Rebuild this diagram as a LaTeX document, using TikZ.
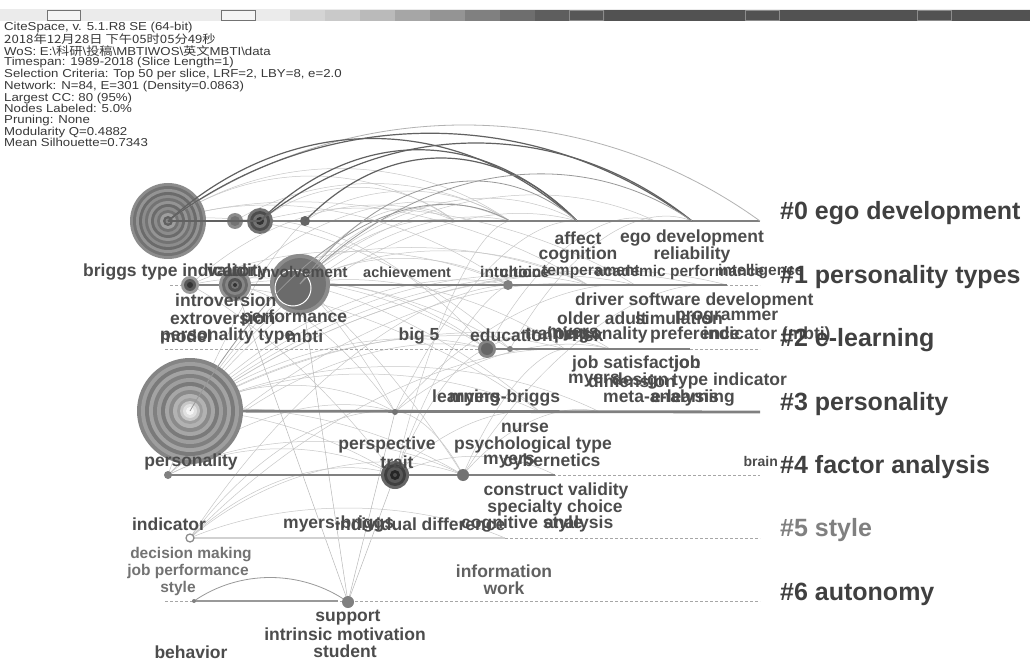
\documentclass[tikz,border=0pt]{standalone}
\usepackage{fontspec}
\setmainfont{Liberation Sans}
\newfontfamily\cjk{Noto Sans CJK SC}
\usetikzlibrary{calc}
\newcommand{\hl}[1]{\scalebox{1.15}[1]{#1}}
\newcommand{\carc}[4][]{\draw[#1] (#2) .. controls ($(#2)!0.3!(#3)+(0,-#4)$) and ($(#2)!0.7!(#3)+(0,-#4)$) .. (#3);}
\tikzset{
  lab/.style={font=\fontsize{17.5}{17.5}\selectfont\bfseries, text=black!70, inner sep=0pt},
  labw/.style={lab, anchor=west},
  lsm/.style={font=\fontsize{15.5}{15.5}\selectfont\bfseries},
  lxs/.style={font=\fontsize{14.5}{14.5}\selectfont\bfseries},
  clab/.style={font=\fontsize{25}{25}\selectfont\bfseries, text=black!75, inner sep=0pt, anchor=west},
  tl/.style={draw=black!50, line width=2.8pt},
  tld/.style={draw=black!35, line width=0.7pt, dash pattern=on 3pt off 2pt},
  arcl/.style={draw=black!22, line width=0.5pt},
  arcm/.style={draw=black!40, line width=0.8pt},
  arcd/.style={draw=black!62, line width=1.2pt},
}
\begin{document}
\begin{tikzpicture}[x=1pt,y=-1pt]
\useasboundingbox (0,0) rectangle (1030,660);
\fill[white] (0,0) rectangle (1030,660);
% ---------------- top legend bar
\fill[black!8] (0,9) rectangle (1030,21);
\draw[black!55, fill=black!4] (47,10.5) rectangle (80,20.5);
\draw[black!55, fill=black!4] (221,10.5) rectangle (255,20.5);
\foreach \i/\c in {0/17,1/21,2/27,3/35,4/42,5/50,6/57,7/63,8/66} \fill[black!\c] (290+35*\i,10) rectangle (325+35*\i,21);
\fill[black!68] (605,10) rectangle (1030,21);
\foreach \xx in {569,745,917} \draw[black!45, line width=0.8pt] (\xx,10.5) rectangle (\xx+34,20.5);
% ---------------- header text
\node[anchor=north west, align=left, inner sep=0pt, font=\fontsize{11.5}{10.6}\selectfont, text=black!78] (hdr) at (4,22) {%
\hl{CiteSpace, v. 5.1.R8 SE (64-bit)}\\
\hl{\cjk 2018年12月28日 下午05时05分49秒}\\
\hl{WoS: E:\textbackslash{\cjk 科研}\textbackslash{\cjk 投稿}\textbackslash MBTIWOS\textbackslash{\cjk 英文}MBTI\textbackslash data}\\
\hl{Timespan: 1989-2018 (Slice Length=1)}\\
\hl{Selection Criteria: Top 50 per slice, LRF=2, LBY=8, e=2.0}\\
\hl{Network: N=84, E=301 (Density=0.0863)}\\
\hl{Largest CC: 80 (95\%)}\\
\hl{Nodes Labeled: 5.0\%}\\
\hl{Pruning: None}\\
\hl{Modularity Q=0.4882}\\
\hl{Mean Silhouette=0.7343}};
% ---------------- coordinates
\coordinate (A0) at (168,221); \coordinate (A1) at (235,221); \coordinate (A2) at (260,221);
\coordinate (A3) at (305,221); \coordinate (A4) at (455,221); \coordinate (A5) at (510,221);
\coordinate (A6) at (577,221); \coordinate (A7) at (655,221); \coordinate (A8) at (692,221);
\coordinate (A9) at (760,221);
\coordinate (B0) at (190,285); \coordinate (B1) at (235,285); \coordinate (B2) at (300,284);
\coordinate (B3) at (508,285); \coordinate (B4) at (588,285); \coordinate (B5) at (635,285);
\coordinate (B6) at (700,285); \coordinate (B7) at (727,285); \coordinate (B8) at (760,285);
\coordinate (Bs) at (170,285);
\coordinate (Cs) at (165,349); \coordinate (C0) at (487,349); \coordinate (C1) at (510,349);
\coordinate (C2) at (565,349); \coordinate (C3) at (610,349); \coordinate (C4) at (690,349);
\coordinate (C5) at (760,349);
\coordinate (D0) at (190,411); \coordinate (D1) at (395,412); \coordinate (D2) at (540,412);
\coordinate (D3) at (600,412); \coordinate (D4) at (760,412);
\coordinate (E0) at (168,475); \coordinate (E1) at (395,475); \coordinate (E2) at (463,475);
\coordinate (E3) at (555,475); \coordinate (E4) at (760,475);
\coordinate (F0) at (190,538); \coordinate (F1) at (505,538); \coordinate (F2) at (760,538);
\coordinate (Gs) at (165,601); \coordinate (G0) at (194,601); \coordinate (G1) at (338,601);
\coordinate (G2) at (348,602); \coordinate (G3) at (760,601);
% ---------------- light arcs
\foreach \s/\e/\h in {D0/A4/70, D0/A5/80, D0/A6/90, D0/B3/60, D0/B4/70, D0/B5/70, D0/C0/45,
  D0/C2/50, D0/C3/55, D0/D1/35, D0/D2/50, D0/D3/60, D0/E1/20, D0/E2/30, B2/A4/50, B2/A5/55,
  B2/A6/65, B2/A7/70, B2/B3/35, B2/B4/45, B2/C0/25, B2/C2/35, B2/D1/15, B2/D2/25, B1/A5/60,
  B1/B4/50, B1/C1/35, B0/A4/55, B0/B3/45, B0/C0/40, A0/A4/60, A0/A5/70, A0/B3/55, A0/B4/60,
  A1/A5/50, A2/A4/45, A3/A5/40, E0/D1/40, E0/E1/35, E0/E2/45, E1/C0/30, E1/D2/25, E1/B3/40,
  E1/E3/25, E2/D3/30, E2/C2/35, F0/E1/40, F0/D1/45, F0/E2/50, F0/F1/40, C0/C3/25, C0/A7/55,
  D1/C3/35, D1/A6/60, E1/A5/70, D0/B7/80, A2/B5/50, B2/E2/20, E0/C0/60, D0/B6/75, B0/D2/40,
  E0/B4/70, F0/C2/60, D1/B5/45, E2/B6/55, C1/A8/60, B1/D1/30, A1/C0/50, E0/A3/40, F0/B3/70,
  D1/E2/20, B0/E1/25, A0/C1/55}
  {\carc[arcl]{\s}{\e}{\h}}
\foreach \e in {E1, D1, B2, B1} \draw[arcl, draw=black!28] (G2) -- (\e);
% ---------------- timelines
\draw[tl] (A0) -- (A9);
\draw[tld] (Bs) -- (B8); \draw[tl] (B0) -- (B7);
\draw[tld] (Cs) -- (C5); \draw[tl] (C0) -- (C4);
\draw[tl] (D0) -- (D4);
\draw[tld] (E0) -- (E4); \draw[tl] (E0) -- (E3);
\draw[tld] (F0) -- (F2); \draw[draw=black!18, line width=2.5pt] (F0) -- (F1);
\draw[tld] (Gs) -- (G3); \draw[draw=black!40, line width=2.5pt] (G0) -- (G1);
\carc[arcm]{G0}{G2}{32}
% ---------------- nodes
\foreach \r/\c in {38/45,35/55,32/42,29/58,26/45,23/55,20/42,17/58,14/45,11/55,8/38,5/62,2.5/48}
  \fill[black!\c] (A0) circle (\r);
\foreach \r/\c in {53/48,49/38,45/52,41/36,37/50,33/38,29/52,25/35,21/46,17/30,13/38,10/22,7/12,4/4}
  \fill[black!\c] (D0) circle (\r);
\fill[black!45] (B2) circle (30); \fill[black!55] (B2) circle (26);
\draw[white, line width=1pt, fill=black!58] (293,288) circle (18);
\foreach \r/\c in {16/42,13/58,10/48,7/68,4/55,2/80} \fill[black!\c] (B1) circle (\r);
\foreach \r/\c in {9/40,6/65,3/80} \fill[black!\c] (B0) circle (\r);
\foreach \r/\c in {8/45,5/55} \fill[black!\c] (A1) circle (\r);
\foreach \r/\c in {13/55,10/70,7/55,4/80} \fill[black!\c] (A2) circle (\r);
\fill[black!60] (A3) circle (5);
\fill[black!50] (B3) circle (5);
\foreach \r/\c in {9/48,6/60} \fill[black!\c] (C0) circle (\r);
\fill[black!50] (C1) circle (3);
\fill[black!55] (D1) circle (3);
\fill[black!50] (E0) circle (4);
\foreach \r/\c in {14/60,11/75,8/65,5/85,2/70} \fill[black!\c] (E1) circle (\r);
\fill[black!55] (E2) circle (6);
\draw[black!45, line width=1.3pt, fill=white] (F0) circle (4);
\fill[black!50] (G2) circle (6);
\fill[black!50] (G0) circle (2);
% ---------------- dark arcs
\carc[draw=black!30, line width=0.8pt]{A0}{A9}{128}
\carc[arcd]{A0}{A6}{110}
\carc[arcd]{A0}{A8}{117}
\carc[arcd]{A2}{A8}{104}
\carc[arcd]{A2}{A6}{95}
\carc[arcd]{A3}{A6}{84}
\carc[arcm]{B2}{A6}{90}
\carc[arcm]{B2}{A8}{100}
\carc[arcm]{D0}{A5}{110}
\draw[arcd] (A0) -- (A2);
% ---------------- row 0 labels
\node[lab] (l01) at (578,238) {affect};
\node[lab] (l02) at (692,238) {ego development};
\node[lab] (l03) at (578,255) {cognition};
\node[lab] (l04) at (692,255) {reliability};
% ---------------- row 1 labels
\node[labw] (l11) at (83,272) {briggs type indicator};
\node[labw] (l12) at (207,272) {validity};
\node[labw, lsm] (l13) at (257,272) {involvement};
\node[labw, lxs] (l14) at (363,272) {achievement};
\node[labw, lsm] (l15) at (480,272) {intuition};
\node[labw, lsm] (l16) at (500,272) {choice};
\node[labw, lsm] (l17) at (542,272) {temperament};
\node[labw, lsm] (l18) at (595,272) {academic performance};
\node[labw, lsm] (l19) at (718,272) {intelligence};
% ---------------- row 2 labels
\node[labw] (l21) at (175,300) {introversion};
\node[labw] (l22) at (170,318) {extroversion};
\node[labw] (l23) at (241,318) {performance};
\node[labw] (l24) at (160,336) {model};
\node[labw] (l25) at (160,336) {personality type};
\node[labw] (l26) at (286,336) {mbti};
\node[lab] (l27) at (419,336) {big 5};
\node[labw] (l28) at (575,301) {driver software development};
\node[labw] (l29) at (557,318) {older adult};
\node[labw] (l2a) at (635,318) {simulation};
\node[labw] (l2b) at (675,318) {programmer};
\node[labw] (l2c) at (470,335) {education};
\node[labw] (l2d) at (525,335) {training};
\node[labw] (l2e) at (547,335) {myers};
\node[labw] (l2f) at (572,335) {risk};
\node[labw] (l2g) at (554,335) {personality};
\node[labw] (l2h) at (650,335) {preference};
\node[labw] (l2i) at (703,335) {indicator (mbti)};
\node[labw] (l2j) at (572,364) {job satisfaction};
\node[labw] (l2k) at (674,364) {job};
\node[labw] (l2l) at (568,381) {myers};
\node[labw] (l2m) at (588,381) {dimension};
\node[labw] (l2n) at (612,381) {design};
\node[labw] (l2o) at (672,381) {type indicator};
\node[labw] (l2p) at (603,398) {meta-analysis};
\node[labw] (l2q) at (651,398) {e-learning};
\node[labw] (l2r) at (432,398) {learning};
\node[labw] (l2s) at (449,398) {myers-briggs};
% ---------------- row 3 labels
\node[lab] (l31) at (525,428) {nurse};
\node[lab] (l32) at (533,445) {psychological type};
\node[lab] (l33) at (387,445) {perspective};
\node[lab] (l34) at (397,462) {trait};
\node[lab] (l35) at (191,462) {personality};
\node[labw] (l36) at (483,462) {myers};
\node[labw] (l37) at (503,462) {cybernetics};
\node[lab, anchor=east, font=\fontsize{14}{14}\selectfont\bfseries] (l39) at (778,461) {brain};
% ---------------- row 4 labels
\node[lab] (l41) at (556,491) {construct validity};
\node[lab] (l42) at (555,508) {specialty choice};
\node[lab] (l43) at (169,524) {indicator};
\node[labw] (l44) at (283,524) {myers-briggs};
\node[labw] (l45) at (335,524) {individual difference};
\node[labw] (l46) at (461,524) {cognitive style};
\node[labw] (l47) at (544,524) {analysis};
% ---------------- row 5 labels
\node[lab, lsm, text=black!55] (l51) at (191,555) {decision making};
\node[lab, lsm, text=black!55] (l52) at (188,571) {job performance};
\node[lab, lsm, text=black!55] (l53) at (178,588) {style};
\node[lab, text=black!62] (l54) at (504,571) {information};
\node[lab, text=black!62] (l55) at (504,588) {work};
% ---------------- row 6 labels
\node[lab] (l61) at (348,618) {support};
\node[lab] (l62) at (345,634) {intrinsic motivation};
\node[lab] (l63) at (345,651) {student};
\node[lab] (l64) at (191,652) {behavior};
% ---------------- cluster labels
\node[clab] (k0) at (780,213) {\#0 ego development};
\node[clab] (k1) at (780,277) {\#1 personality types};
\node[clab] (k2) at (780,340) {\#2 e-learning};
\node[clab] (k3) at (780,404) {\#3 personality};
\node[clab] (k4) at (780,467) {\#4 factor analysis};
\node[clab, text=black!50] (k5) at (780,530) {\#5 style};
\node[clab] (k6) at (780,594) {\#6 autonomy};
\end{tikzpicture}
\end{document}
